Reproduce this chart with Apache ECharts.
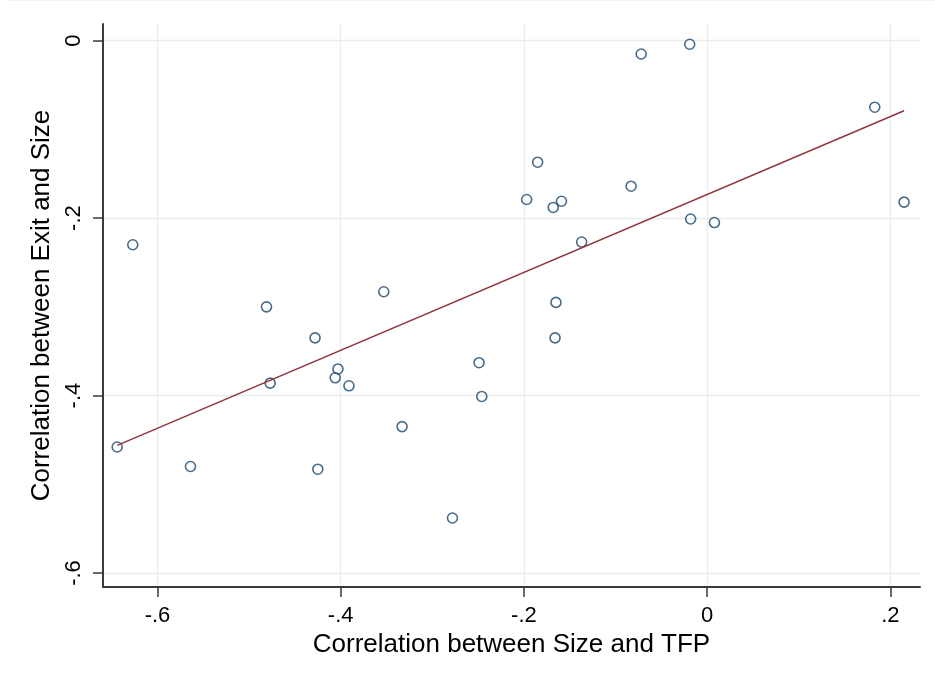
<!DOCTYPE html>
<html>
<head>
<meta charset="utf-8">
<title>Exit and Size vs Size and TFP</title>
<script src="https://cdn.jsdelivr.net/npm/echarts@6/dist/echarts.min.js"></script>
<style>
  html, body { margin: 0; padding: 0; background: #ffffff; }
  #chart { width: 935px; height: 683px; }
</style>
</head>
<body>
<div id="chart"></div>
<script>
// Correlation between size and TFP (x) against correlation between exit and size (y), one point per unit
const sizeTfpCorr = [
  -0.644, -0.627, -0.564, -0.481, -0.477, -0.428, -0.425, -0.403, -0.406, -0.391,
  -0.353, -0.333, -0.278, -0.249, -0.246, -0.197, -0.185, -0.168, -0.159, -0.165,
  -0.166, -0.137, -0.083, -0.072, -0.019, -0.018, 0.008, 0.183, 0.215
];
const exitSizeCorr = [
  -0.458, -0.230, -0.480, -0.300, -0.386, -0.335, -0.483, -0.370, -0.380, -0.389,
  -0.283, -0.435, -0.538, -0.363, -0.401, -0.179, -0.137, -0.188, -0.181, -0.295,
  -0.335, -0.227, -0.164, -0.015, -0.004, -0.201, -0.205, -0.075, -0.182
];

// Axis ticks and their printed labels
const xTickValues = [-0.6, -0.4, -0.2, 0, 0.2];
const xTickLabels = ['-.6', '-.4', '-.2', '0', '.2'];
const yTickValues = [-0.6, -0.4, -0.2, 0];
const yTickLabels = ['-.6', '-.4', '-.2', '0'];

const xTitle = 'Correlation between Size and TFP';
const yTitle = 'Correlation between Exit and Size';

// Scatter points
const points = sizeTfpCorr.map((x, i) => [x, exitSizeCorr[i]]);

// Least-squares fitted line across the observed x range
function linearFit(xs, ys) {
  const n = xs.length;
  const mx = xs.reduce((a, b) => a + b, 0) / n;
  const my = ys.reduce((a, b) => a + b, 0) / n;
  let sxy = 0, sxx = 0;
  for (let i = 0; i < n; i++) {
    sxy += (xs[i] - mx) * (ys[i] - my);
    sxx += (xs[i] - mx) * (xs[i] - mx);
  }
  const slope = sxy / sxx;
  return { slope, intercept: my - slope * mx };
}
const fit = linearFit(sizeTfpCorr, exitSizeCorr);
const xLo = Math.min(...sizeTfpCorr);
const xHi = Math.max(...sizeTfpCorr);
const fitLine = [
  [xLo, fit.intercept + fit.slope * xLo],
  [xHi, fit.intercept + fit.slope * xHi]
];

const FONT = '"Liberation Sans", Arial, sans-serif';
const gridColor = '#e6eef0';
const axisColor = '#3a3a3a';

function labelFor(values, labels) {
  return v => {
    const i = values.findIndex(t => Math.abs(t - v) < 1e-9);
    return i >= 0 ? labels[i] : '';
  };
}

const gridLines = [
  ...xTickValues.map(v => ({ xAxis: v })),
  ...yTickValues.map(v => ({ yAxis: v }))
];

const chart = echarts.init(document.getElementById('chart'), null, { renderer: 'canvas' });
chart.setOption({
  animation: false,
  backgroundColor: '#ffffff',
  graphic: [{
    type: 'line',
    shape: { x1: 7, y1: 0.5, x2: 935, y2: 0.5 },
    style: { stroke: '#eef3f4', lineWidth: 1 },
    silent: true
  }],
  grid: { left: 103, right: 15, top: 24, bottom: 96 },
  xAxis: {
    type: 'value',
    min: -0.6595,
    max: 0.2324,
    name: xTitle,
    nameLocation: 'middle',
    nameGap: 36,
    nameTextStyle: { fontFamily: FONT, fontSize: 26, color: '#000' },
    axisLine: { show: true, onZero: false, lineStyle: { color: axisColor, width: 2 } },
    axisTick: { show: true, length: 10, customValues: xTickValues, lineStyle: { color: axisColor, width: 1.5 } },
    axisLabel: {
      customValues: xTickValues,
      formatter: labelFor(xTickValues, xTickLabels),
      fontFamily: FONT, fontSize: 22, color: '#000', margin: 18
    },
    splitLine: { show: false }
  },
  yAxis: {
    type: 'value',
    min: -0.6158,
    max: 0.0188,
    name: yTitle,
    nameLocation: 'middle',
    nameGap: 43,
    nameTextStyle: { fontFamily: FONT, fontSize: 26, color: '#000' },
    axisLine: { show: true, onZero: false, lineStyle: { color: axisColor, width: 2 } },
    axisTick: { show: true, length: 10, customValues: yTickValues, lineStyle: { color: axisColor, width: 1.5 } },
    axisLabel: {
      customValues: yTickValues,
      formatter: labelFor(yTickValues, yTickLabels),
      rotate: 90,
      fontFamily: FONT, fontSize: 22, color: '#000', margin: 18
    },
    splitLine: { show: false }
  },
  series: [
    {
      type: 'scatter',
      data: points,
      symbol: 'circle',
      symbolSize: 10,
      itemStyle: { color: 'rgba(255,255,255,0)', borderColor: '#1a476f', borderWidth: 1.6 },
      markLine: {
        silent: true,
        symbol: ['none', 'none'],
        label: { show: false },
        lineStyle: { color: gridColor, type: 'solid', width: 1.3 },
        data: gridLines,
        z: 0
      },
      z: 3
    },
    {
      type: 'line',
      data: fitLine,
      showSymbol: false,
      symbol: 'none',
      lineStyle: { color: '#90353b', width: 1.4 },
      z: 4
    }
  ]
});
</script>
</body>
</html>
